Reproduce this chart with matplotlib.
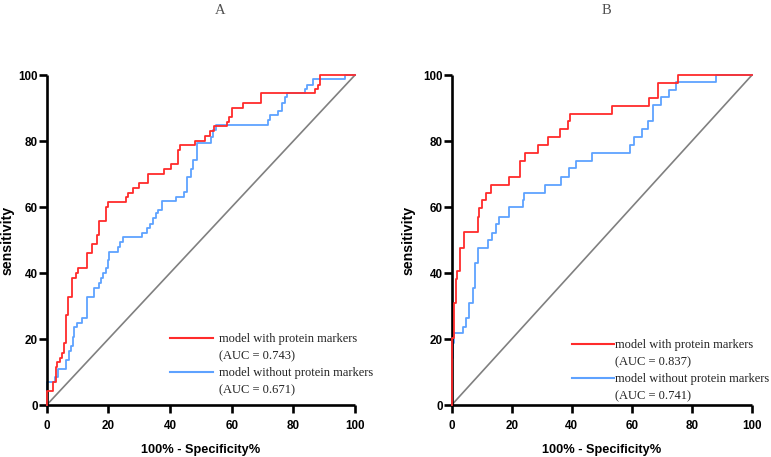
import matplotlib
matplotlib.use("Agg")
import matplotlib.pyplot as plt
from matplotlib.lines import Line2D
from matplotlib.font_manager import FontProperties

# ---------------- data ----------------
# Panel A
a_red_x = [0, 0, 2.2, 2.9, 3.5, 4.3, 5.1, 5.6, 6.2, 6.8, 8.1, 9.5, 10.3, 13.2, 14.6, 16.2, 17.0,
           19.1, 20.0, 25.7, 26.5, 28.1, 29.9, 33.0, 38.1, 40.3, 42.5, 43.2, 48.1, 51.3, 53.0,
           54.4, 58.6, 59.2, 60.0, 63.6, 69.5, 87.0, 87.9, 88.6, 100]
a_red_y = [0, 4.2, 7.1, 11.6, 13.1, 14.3, 15.9, 18.7, 27.3, 32.8, 38.4, 39.9, 41.4, 46.0, 48.7,
           51.5, 55.8, 60.1, 61.6, 63.1, 64.3, 65.7, 67.2, 69.9, 71.5, 72.9, 77.3, 78.8, 80.1,
           81.5, 83.0, 84.5, 85.9, 87.4, 90.1, 91.6, 94.4, 95.7, 97.0, 100, 100]

a_blue_x = [0, 0, 2.7, 3.8, 6.2, 7.2, 7.8, 8.4, 9.0, 9.7, 11.6, 13.0, 15.5, 17.0, 17.6, 18.4,
            19.1, 20.0, 20.3, 23.0, 23.8, 24.9, 31.0, 32.4, 33.5, 34.6, 35.4, 36.2, 37.3, 41.8,
            44.5, 45.6, 46.7, 47.6, 48.6, 53.2, 54.0, 54.8, 71.9, 72.4, 75.1, 76.2, 77.3, 78.0,
            83.8, 84.5, 86.5, 96.8, 100]
a_blue_y = [0, 6.9, 8.6, 10.8, 13.6, 16.4, 17.9, 20.7, 23.7, 24.7, 26.3, 32.8, 35.6, 36.9, 38.4,
            39.9, 41.4, 43.9, 46.5, 48.0, 49.5, 51.0, 52.2, 53.5, 55.0, 56.6, 58.1, 59.1, 61.8,
            63.1, 64.4, 69.0, 71.5, 74.2, 79.5, 81.2, 83.3, 85.0, 86.4, 87.9, 89.2, 91.4, 93.2,
            94.4, 95.7, 97.0, 98.7, 100, 100]

# Panel B
b_red_x = [0, 0, 0.2, 0.6, 1.3, 1.9, 2.8, 4.2, 8.7, 9.1, 10.0, 11.4, 13.0, 19.1, 22.6, 24.4,
           28.7, 32.0, 35.9, 38.7, 39.4, 53.4, 65.6, 68.6, 75.3, 100]
b_red_y = [0, 15.9, 20.2, 30.8, 38.1, 40.7, 47.7, 52.5, 57.1, 59.8, 62.1, 64.3, 66.7, 69.2,
           73.9, 76.3, 78.8, 81.1, 83.5, 86.1, 88.2, 90.6, 92.9, 97.7, 100, 100]

b_blue_x = [0, 0, 0.3, 0.8, 3.9, 4.8, 5.9, 7.2, 7.8, 8.7, 12.0, 13.3, 14.7, 15.8, 19.1, 23.9,
            24.2, 31.1, 36.4, 39.2, 41.3, 46.7, 59.5, 60.7, 63.3, 65.5, 66.9, 69.6, 72.2, 74.6,
            87.9, 100]
b_blue_y = [0, 14.1, 18.7, 21.7, 23.7, 26.3, 31.0, 35.4, 42.9, 47.7, 50.0, 52.2, 54.7, 57.1,
            60.1, 62.1, 64.3, 66.7, 69.2, 71.7, 73.9, 76.3, 78.8, 81.3, 83.6, 86.1, 90.8, 93.3,
            95.6, 97.9, 100, 100]

diag = [0, 100]
ticks = [0, 20, 40, 60, 80, 100]
titles = ["A", "B"]
labels_with = ["model with protein markers", "model with protein markers"]
labels_without = ["model without protein markers", "model without protein markers"]
auc_with = ["(AUC = 0.743)", "(AUC = 0.837)"]
auc_without = ["(AUC = 0.671)", "(AUC = 0.741)"]
xlabel = "100% - Specificity%"
ylabel = "sensitivity"

RED = "#ff2b2b"
BLUE = "#5ea2ff"
GRAY = "#808080"

# ---------------- figure ----------------
W, H = 771, 457
fig = plt.figure(figsize=(W / 100, H / 100), dpi=100)

sans = ["Liberation Sans", "DejaVu Sans"]
serif = ["Liberation Serif", "DejaVu Serif"]
tick_fp = FontProperties(family=sans, weight="bold", size=8.4)

panels = [
    dict(rect=(46.7, 75, 355, 405), red=(a_red_x, a_red_y), blue=(a_blue_x, a_blue_y),
         title_x=220, leg=(0.40, 0.217), htp=0.5, ylab_x=-0.103),
    dict(rect=(451.7, 75, 752, 405), red=(b_red_x, b_red_y), blue=(b_blue_x, b_blue_y),
         title_x=606.7, leg=(0.40, 0.200), htp=0.05, ylab_x=-0.122),
]

for i, p in enumerate(panels):
    l, t, r, b = p["rect"]
    ax = fig.add_axes([l / W, 1 - b / H, (r - l) / W, (b - t) / H])
    ax.plot(diag, diag, color=GRAY, lw=1.2, zorder=1, clip_on=False)
    ax.plot(*p["blue"], color=BLUE, lw=1.3, drawstyle="steps-post", zorder=2, clip_on=False)
    ax.plot(*p["red"], color=RED, lw=1.3, drawstyle="steps-post", zorder=3, clip_on=False)
    ax.set_xlim(0, 100)
    ax.set_ylim(0, 100)
    ax.set_xticks(ticks)
    ax.set_yticks(ticks)
    for s in ["top", "right"]:
        ax.spines[s].set_visible(False)
    for s in ["left", "bottom"]:
        ax.spines[s].set_linewidth(1.9)
        ax.spines[s].set_capstyle("butt")
    ax.tick_params(axis="both", direction="out", length=5.5, width=1.9, colors="black")
    ax.tick_params(axis="x", pad=5)
    ax.tick_params(axis="y", pad=1)
    for lab in ax.get_xticklabels() + ax.get_yticklabels():
        lab.set_fontproperties(tick_fp)
    ax.set_xlabel(xlabel, fontproperties=FontProperties(family=sans, weight="bold", size=9.2),
                  labelpad=9)
    ax.set_ylabel(ylabel, fontproperties=FontProperties(family=sans, weight="bold", size=10.2))
    ax.yaxis.set_label_coords(p["ylab_x"], 0.5)

    fig.text(p["title_x"] / W, 1 - 11 / H, titles[i], ha="center", va="center",
             family=serif, size=10.5, color="#505050")

    handles = [Line2D([], [], color=RED, lw=1.5), Line2D([], [], lw=0),
               Line2D([], [], color=BLUE, lw=1.5), Line2D([], [], lw=0)]
    labs = [labels_with[i], auc_with[i], labels_without[i], auc_without[i]]
    leg = ax.legend(handles, labs, loc="upper left", bbox_to_anchor=p["leg"],
                    frameon=False, prop=dict(family=serif, size=9.0),
                    handlelength=3.4, handletextpad=p["htp"], labelspacing=0.40,
                    borderpad=0, borderaxespad=0)
    for txt in leg.get_texts():
        txt.set_color("#222222")

fig.savefig("out.png", dpi=100)
